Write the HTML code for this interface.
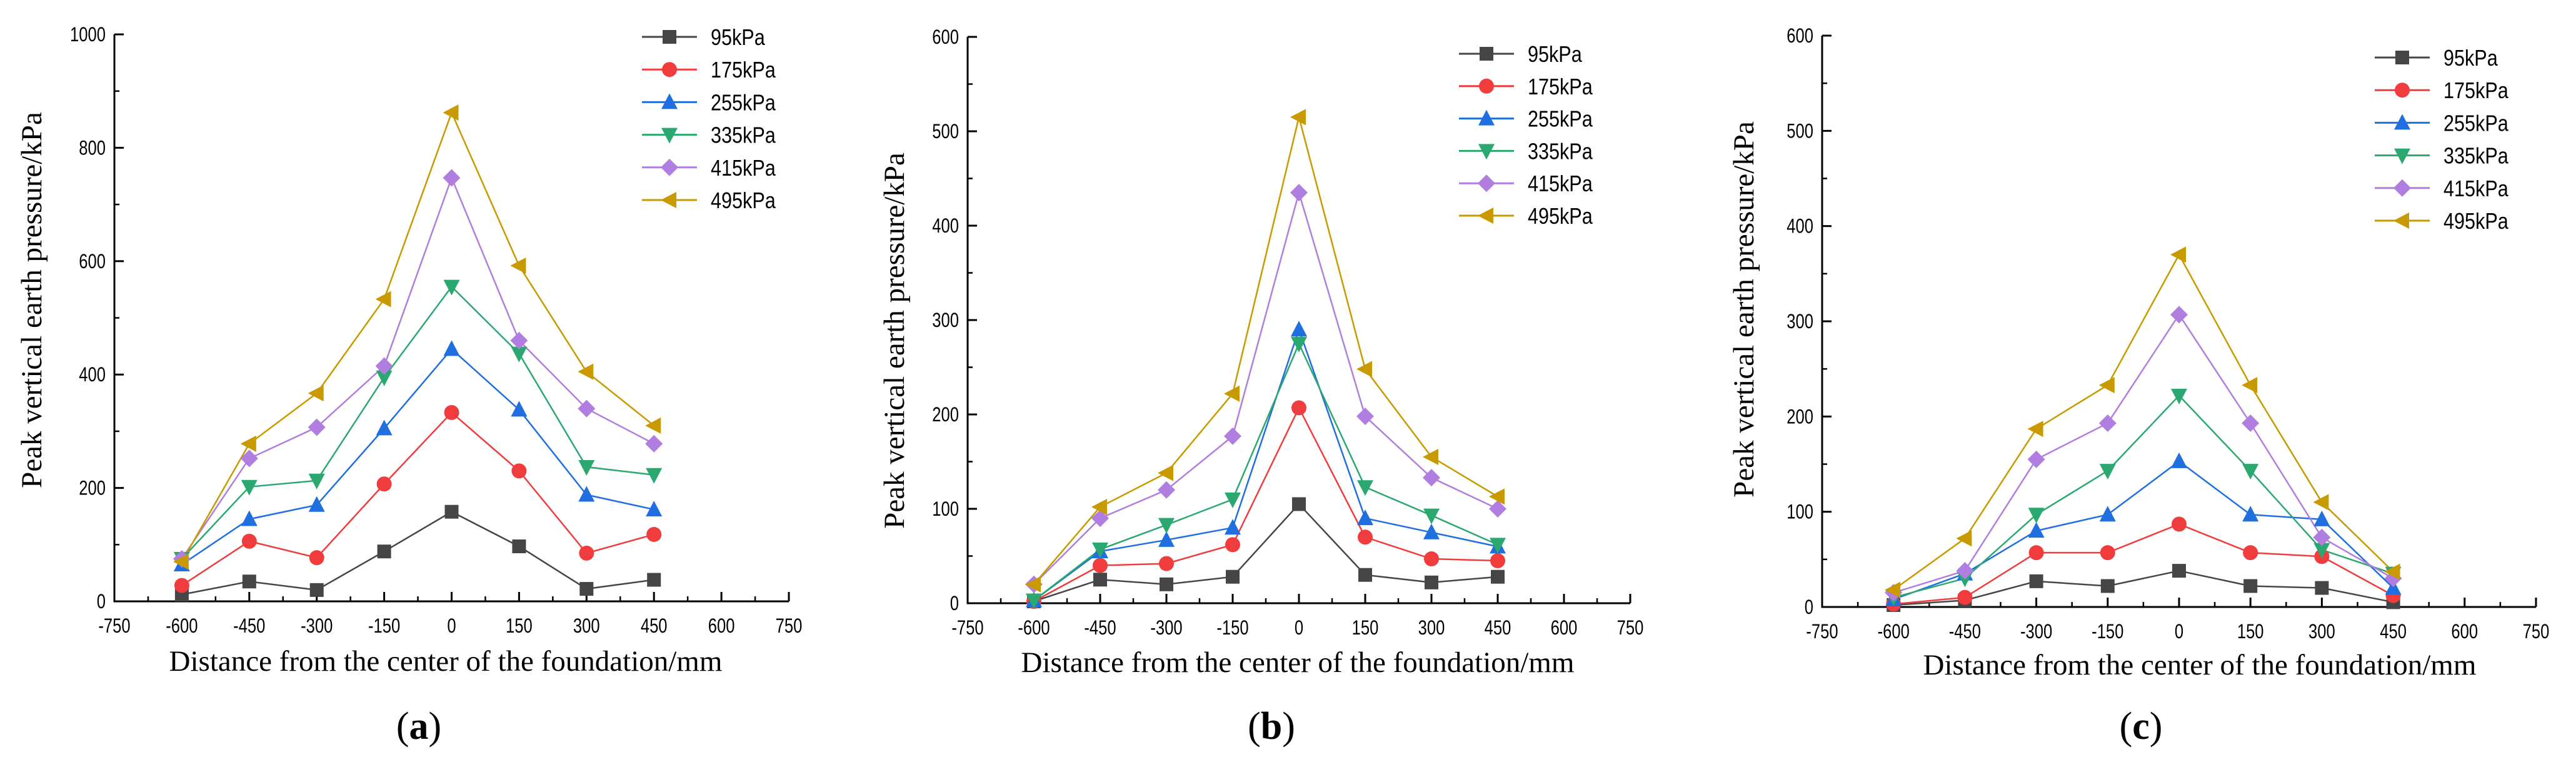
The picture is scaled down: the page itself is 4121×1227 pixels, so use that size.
<!DOCTYPE html>
<html><head><meta charset="utf-8"><style>
html,body{margin:0;padding:0;background:#fff;}
svg{display:block;}
</style></head><body>
<svg id="fig" width="4121" height="1227" viewBox="0 0 4121 1227" xmlns="http://www.w3.org/2000/svg"></svg>
<script>
const xCats = [-600,-450,-300,-150,0,150,300,450];
const xTicks = [-750,-600,-450,-300,-150,0,150,300,450,600,750];
const seriesNames = ["95kPa","175kPa","255kPa","335kPa","415kPa","495kPa"];
const seriesColors = ["#454545","#f03c3c","#1f6fe0","#2aa870","#b07ee0","#c89a00"];
const markerShapes = ["square","circle","up","down","diamond","left"];

const a95 = [12,35,20,88,158,97,22,38];
const a175 = [28,106,77,207,333,230,85,118];
const a255 = [65,145,170,305,445,338,188,162];
const a335 = [75,202,213,395,555,437,237,223];
const a415 = [75,252,307,415,747,460,340,278];
const a495 = [70,278,367,533,862,592,405,310];
const aYTicks = [0,200,400,600,800,1000];

const b95 = [2,25,20,28,105,30,22,28];
const b175 = [2,40,42,62,207,70,47,45];
const b255 = [3,55,67,80,290,90,75,60];
const b335 = [3,57,83,110,275,123,93,62];
const b415 = [20,90,120,177,435,198,133,100];
const b495 = [20,102,138,222,515,248,155,113];
const bYTicks = [0,100,200,300,400,500,600];

const c95 = [2,7,27,22,38,22,20,5];
const c175 = [3,10,57,57,87,57,53,12];
const c255 = [8,35,80,97,153,97,92,20];
const c335 = [10,30,97,143,222,143,60,35];
const c415 = [15,38,155,193,307,193,73,30];
const c495 = [18,72,187,233,370,233,110,37];
const cYTicks = [0,100,200,300,400,500,600];

const NS = "http://www.w3.org/2000/svg";
const svg = document.getElementById("fig");
function mk(tag, attrs, parent){
  const e = document.createElementNS(NS, tag);
  for (const k in attrs) e.setAttribute(k, attrs[k]);
  (parent||svg).appendChild(e);
  return e;
}
function marker(g, shape, x, y, col){
  const s = 11;
  let e;
  if (shape==="square") e = mk("rect",{x:x-s,y:y-s,width:2*s,height:2*s,fill:col},g);
  else if (shape==="circle") e = mk("circle",{cx:x,cy:y,r:s+1,fill:col},g);
  else if (shape==="up") e = mk("polygon",{points:`${x},${y-s-3} ${x+s+2},${y+s} ${x-s-2},${y+s}`,fill:col},g);
  else if (shape==="down") e = mk("polygon",{points:`${x},${y+s+3} ${x+s+2},${y-s} ${x-s-2},${y-s}`,fill:col},g);
  else if (shape==="diamond") e = mk("polygon",{points:`${x},${y-s-3} ${x+s+3},${y} ${x},${y+s+3} ${x-s-3},${y}`,fill:col},g);
  else e = mk("polygon",{points:`${x-s-3},${y} ${x+s},${y-s-2} ${x+s},${y+s+2}`,fill:col},g);
  
  
}

function panel(p){
  const g = mk("g",{});
  
  
  const yMax = p.yTicks[p.yTicks.length-1];
  const X = v => p.x0 + (v + 750) / 1500 * (p.x1 - p.x0);
  const Y = v => p.y0 - v / yMax * (p.y0 - p.yTop);
  // axes
  const ax = mk("path",{d:`M${p.x0},${p.yTop} V${p.y0} H${p.x1}`,stroke:"#000","stroke-width":3,fill:"none"},g);
  
  
  mk("line",{x1:p.x1,y1:p.y0,x2:p.x1,y2:p.y0-14,stroke:"#000","stroke-width":3},g);
  // x ticks
  for (let i=0;i<xTicks.length;i++){
    const v = xTicks[i];
    mk("line",{x1:X(v),y1:p.y0,x2:X(v),y2:p.y0-15,stroke:"#000","stroke-width":3},g);
    if (i<xTicks.length-1) mk("line",{x1:X(v+75),y1:p.y0,x2:X(v+75),y2:p.y0-8,stroke:"#000","stroke-width":2.5},g);
    const t = mk("text",{x:X(v),y:p.y0+50,"text-anchor":"middle","font-size":32,"font-family":"Liberation Sans, sans-serif",transform:`translate(${X(v)},0) scale(0.8,1) translate(${-X(v)},0)`},g);
    t.textContent = v;
    
    
  }
  // y ticks
  const step = p.yTicks[1]-p.yTicks[0];
  for (let i=0;i<p.yTicks.length;i++){
    const v = p.yTicks[i];
    mk("line",{x1:p.x0,y1:Y(v),x2:p.x0+15,y2:Y(v),stroke:"#000","stroke-width":3},g);
    if (i<p.yTicks.length-1) mk("line",{x1:p.x0,y1:Y(v+step/2),x2:p.x0+8,y2:Y(v+step/2),stroke:"#000","stroke-width":2.5},g);
    const t = mk("text",{x:p.x0-14,y:Y(v)+11,"text-anchor":"end","font-size":32,"font-family":"Liberation Sans, sans-serif",transform:`translate(${p.x0-14},0) scale(0.8,1) translate(${-(p.x0-14)},0)`},g);
    t.textContent = v;
    
    
  }
  // series
  for (let s=0;s<p.series.length;s++){
    const vals = p.series[s];
    const pts = vals.map((v,i)=>X(xCats[i])+","+Y(v)).join(" ");
    const pl = mk("polyline",{points:pts,fill:"none",stroke:seriesColors[s],"stroke-width":2.5},g);
    
    
  }
  for (let s=0;s<p.series.length;s++){
    p.series[s].forEach((v,i)=>marker(g, markerShapes[s], X(xCats[i]), Y(v), seriesColors[s]));
  }
  // legend
  for (let s=0;s<seriesNames.length;s++){
    const ly = p.legY + s*p.legDy;
    const lg = mk("g",{},g);
    
    
    mk("line",{x1:p.legX,y1:ly,x2:p.legX+88,y2:ly,stroke:seriesColors[s],"stroke-width":3},lg);
    marker(lg, markerShapes[s], p.legX+44, ly, seriesColors[s]);
    const t = mk("text",{x:p.legX+110,y:ly+13,"font-size":36,"font-family":"Liberation Sans, sans-serif",transform:`translate(${p.legX+110},0) scale(0.85,1) translate(${-(p.legX+110)},0)`},lg);
    t.textContent = seriesNames[s];
  }
  // axis titles
  const xt = mk("text",{x:p.xtX,y:p.xtY,"text-anchor":"middle","font-size":47,"font-family":"Liberation Serif, serif"},g);
  xt.textContent = "Distance from the center of the foundation/mm";
  
  
  const yt = mk("text",{x:0,y:0,"text-anchor":"middle","font-size":47,"font-family":"Liberation Serif, serif",transform:`translate(${p.ytX},${p.ytY}) rotate(-90)`},g);
  yt.textContent = "Peak vertical earth pressure/kPa";
  
  
  const cap = mk("text",{x:p.capX,y:1182,"text-anchor":"middle","font-size":62,"font-family":"Liberation Serif, serif"},g);
  cap.innerHTML = '(<tspan font-weight="bold">' + p.id + '</tspan>)';
  
  
}

panel({id:"a",x0:183,x1:1262,yTop:55,y0:962,yTicks:aYTicks,series:[a95,a175,a255,a335,a415,a495],
  legX:1027,legY:59,legDy:52.2,xtX:713,xtY:1073,ytX:66,ytY:480,capX:670});
panel({id:"b",x0:1548,x1:2608,yTop:59,y0:965,yTicks:bYTicks,series:[b95,b175,b255,b335,b415,b495],
  legX:2334,legY:86,legDy:51.8,xtX:2076,xtY:1075,ytX:1446,ytY:545,capX:2034});
panel({id:"c",x0:2915,x1:4057,yTop:57,y0:971,yTicks:cYTicks,series:[c95,c175,c255,c335,c415,c495],
  legX:3799,legY:92,legDy:52.2,xtX:3519,xtY:1079,ytX:2805,ytY:495,capX:3425});
</script>
</body></html>
